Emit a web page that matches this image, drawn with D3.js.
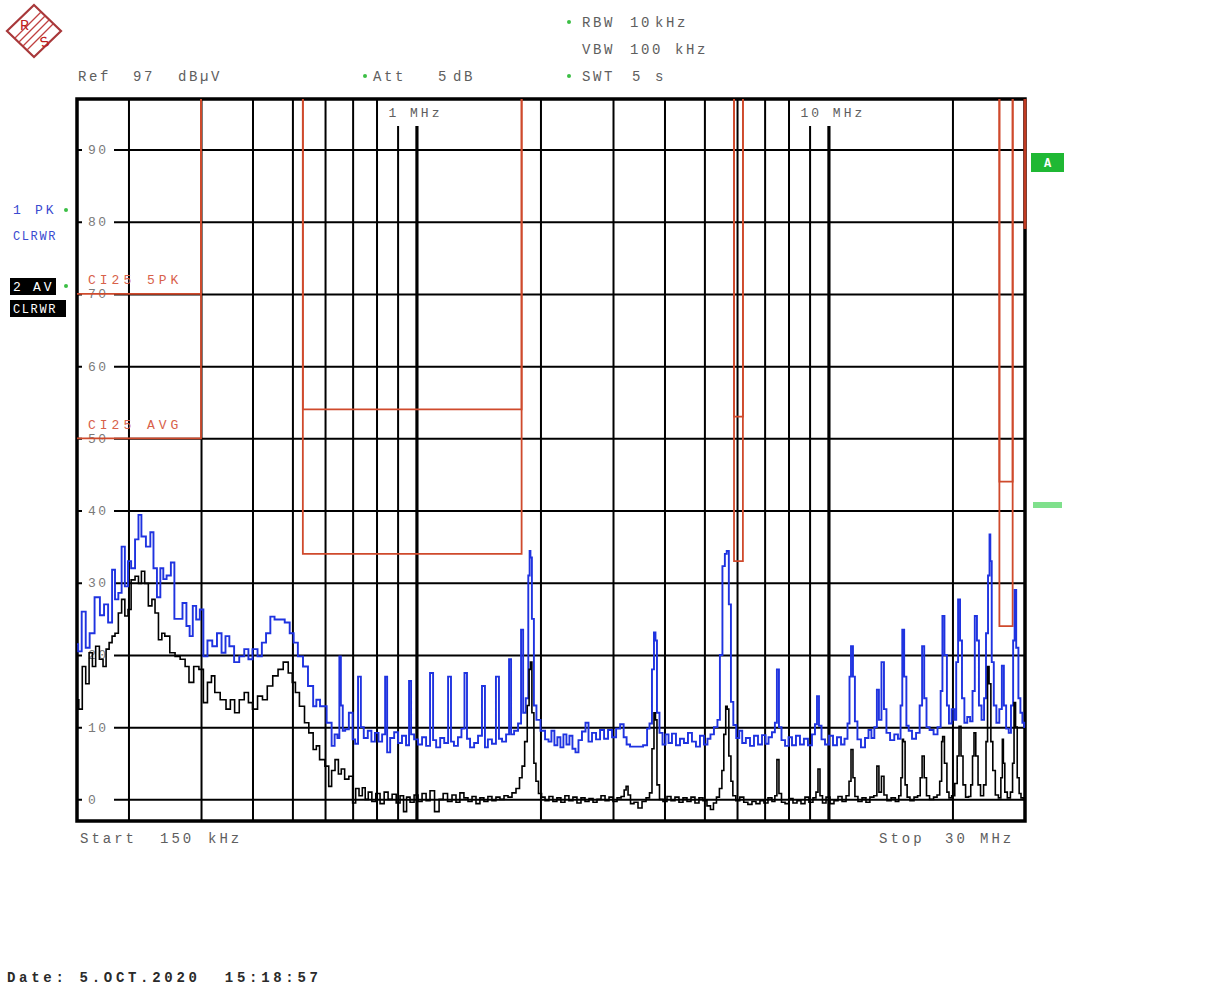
<!DOCTYPE html>
<html><head><meta charset="utf-8">
<script src="https://cdn.jsdelivr.net/npm/d3@7"></script>
<style>
html,body{margin:0;padding:0;background:#fff;}
svg{display:block;}
text{font-family:"Liberation Mono","DejaVu Sans Mono",monospace;}
</style></head><body>
<svg id="c" width="1207" height="1004"></svg>
<script>
// ---- axis settings ----
const startMHz = 0.15, stopMHz = 30;
const refLevel = 97, bottomLevel = -3;
const levelTicks = [0,10,20,30,40,50,60,70,80,90];
const gridFreqs = [0.2,0.3,0.4,0.5,0.6,0.7,0.8,0.9,1,2,3,4,5,6,7,8,9,10,20];
const majorFreqs = [1,10];
// ---- CISPR 25 limit bands (MHz, dBuV) ----
const bandStart = [0.15,0.53,5.9,26];
const bandStop  = [0.3,1.8,6.2,28];
const peakLimit = [70,54,53,44];
const avgLimit  = [50,34,33,24];
const edgeLimitFreq = 30, edgeLimitLevel = 79;
// ---- trace 1: peak (MHz, dBuV) ----
const pkTrace = [[0.150,21.5],[0.152,20.5],[0.156,26],[0.159,21],[0.163,23],[0.168,28],[0.173,25.5],[0.176,27],[0.181,24.5],[0.184,31.8],[0.187,27.7],[0.191,28.6],[0.194,35],[0.198,29.5],[0.201,33],[0.205,32],[0.210,36],[0.213,39.4],[0.217,36.4],[0.224,35],[0.228,37],[0.232,32],[0.237,28],[0.241,32],[0.245,30.5],[0.250,31],[0.257,32.8],[0.260,25],[0.267,25],[0.274,27.2],[0.279,24],[0.284,22.6],[0.289,26.8],[0.295,24.9],[0.301,26.3],[0.307,19.8],[0.315,22],[0.324,21.2],[0.332,23],[0.341,20.3],[0.347,22.6],[0.356,21.2],[0.366,19],[0.377,19.8],[0.387,20.8],[0.395,19.4],[0.405,20.8],[0.418,19.8],[0.425,21.7],[0.438,23],[0.446,25.3],[0.459,24.9],[0.472,24.9],[0.486,24.5],[0.499,23],[0.508,21.7],[0.523,19.8],[0.538,18.4],[0.553,15.7],[0.570,12.9],
[0.573,13.8],[0.594,12.9],[0.617,10.6],[0.628,7.4],[0.638,9],[0.648,8.5],[0.652,19.8],[0.659,13],[0.666,9.5],[0.677,9.7],[0.694,12],[0.706,8.3],[0.714,7.7],[0.729,17],[0.737,10],[0.753,8.5],[0.771,9.5],[0.784,8],[0.802,9.2],[0.816,8],[0.835,9],[0.844,17],[0.854,6.5],[0.873,8.5],[0.893,9.3],[0.912,7.8],[0.933,8.8],[0.954,7.5],[0.965,16.4],[0.976,9],[0.998,8.3],[1.020,7.6],[1.044,8.6],[1.067,7.4],[1.091,17.5],[1.104,8.2],[1.129,7.2],[1.155,8.5],[1.181,7.8],[1.206,17],[1.220,8],[1.247,7.4],[1.275,8.6],[1.297,9.8],[1.319,17.5],[1.334,8.4],[1.365,7.2],[1.396,7.8],[1.426,8.8],[1.459,15.7],[1.474,7.2],[1.508,8.3],[1.542,7.7],[1.577,17],[1.595,8.4],[1.632,8],[1.669,9],[1.687,19.4],[1.707,9],[1.745,9.5],[1.784,10.5],[1.805,23.5],[1.826,12],[1.858,14],[1.879,31],[1.886,34.4],[1.896,33.5],[1.917,25],[1.939,13],[1.972,11],[2.029,9.5],[2.075,8.3],
[2.109,8],[2.144,9.5],[2.180,7.5],[2.217,8.6],[2.255,7.2],[2.293,9],[2.332,7.6],[2.371,8.8],[2.412,7],[2.453,6.5],[2.494,8.2],[2.551,9.4],[2.594,10.6],[2.638,8],[2.698,9.2],[2.759,8.3],[2.822,9.6],[2.886,8.4],[2.950,9.6],[3.018,8.6],[3.087,9.8],[3.157,10.4],[3.211,8.6],[3.263,7.6],[3.336,7.3],[3.489,7.3],[3.610,7.5],[3.649,9.8],[3.709,10.5],[3.751,18],[3.793,23.1],[3.814,22],[3.857,12],[3.923,9.2],[3.990,7.6],[4.058,9],[4.125,7.8],[4.218,9.1],[4.313,7.5],[4.411,8.4],[4.510,7.8],[4.613,9.2],[4.716,8],[4.823,7.3],[4.932,8.8],[5.043,7.6],[5.129,8.4],[5.215,9],[5.333,10],[5.423,11],[5.482,20],[5.578,32.3],[5.633,34],[5.695,34.4],[5.768,27],[5.830,13.5],[5.924,10.3],[6.024,8.5],[6.125,9.5],[6.228,7.8],[6.380,8.5],[6.523,7.4],[6.671,8.8],[6.822,7.6],[6.976,8.9],[7.097,7.7],[7.214,8.6],[7.372,9.3],[7.455,10.6],[7.541,18],[7.628,10],[7.758,8.2],[7.938,7.4],[8.067,8.6],[8.249,7.5],[8.434,8.8],[8.624,7.6],[8.816,8.4],[9.020,7.5],[9.222,9],[9.328,10.4],[9.433,14.3],[9.539,10.2],[9.703,8.3],[9.920,7.6],[10.15,8.8],[10.37,7.5],[10.61,8.6],[10.85,7.6],[11.03,8.4],[11.22,10.5],[11.28,17],[11.41,21.2],[11.53,17],[11.66,10.8],[11.86,8.3],[12.13,7.2],[12.41,8.5],[12.61,9.6],[12.82,8.5],[13.03,10],[13.19,15.2],[13.33,11],[13.57,19],[13.71,12.5],[13.95,9.2],[14.28,8.2],[14.62,9],[14.88,8.4],[15.05,13],[15.17,23.5],[15.37,17],[15.55,10.2],[15.77,9.5],[16.14,8.4],[16.50,9.2],[16.80,13],[16.96,21.2],[17.20,14],[17.40,10],[17.80,9.6],[18.20,9],[18.60,10],[18.85,15],[18.97,25.4],[19.28,20],[19.50,13],[19.73,10.5],[20.09,12.5],[20.32,11],[20.53,19],[20.75,27.7],[20.98,22],[21.21,14],[21.55,10.6],[21.90,11.4],[22.25,10.8],[22.50,15],[22.82,25.4],[23.05,22],[23.33,13],[23.73,11],[24.00,14],[24.25,23],[24.55,31],[24.66,36.7],[24.77,33],[25.05,19],[25.35,13],[25.78,10.6],[26.20,12.5],[26.52,18.5],[26.80,13],[27.20,9.8],[27.58,9.2],[27.90,13],[28.25,22],[28.37,29],[28.75,21],[29.08,14],[29.40,12],[29.73,10.6],[30.0,10]];
// ---- trace 2: average (MHz, dBuV) ----
const avTrace = [[0.150,13.8],[0.153,12.5],[0.156,18.4],[0.159,16],[0.162,20.3],[0.165,18.4],[0.168,21.2],[0.172,19.4],[0.175,18.4],[0.178,20.8],[0.181,21.7],[0.184,22.6],[0.187,23],[0.191,25.8],[0.194,27.7],[0.198,25.4],[0.201,26.3],[0.205,30.4],[0.210,30.9],[0.213,29.9],[0.217,31.6],[0.221,29.9],[0.226,26.8],[0.230,27.7],[0.234,25.8],[0.239,22.1],[0.243,23],[0.247,22.6],[0.257,20.3],[0.262,19.8],[0.272,19.4],[0.277,18.4],[0.284,16.2],[0.292,18.4],[0.301,18],[0.307,13.4],[0.315,16.2],[0.321,17.1],[0.327,14.8],[0.341,13.8],[0.349,12.5],[0.358,13.8],[0.366,12],[0.377,13.8],[0.387,14.8],[0.395,13.4],[0.405,12.5],[0.418,14.3],[0.428,13.8],[0.441,15.7],[0.455,17.1],[0.468,18],[0.482,19],[0.495,17.5],[0.504,16.2],[0.513,14.8],[0.527,12.9],[0.543,10.6],[0.553,9.2],[0.570,6.9],
[0.573,7.4],[0.591,5.5],[0.608,4.6],[0.617,1.8],[0.628,4],[0.641,5.5],[0.652,3.5],[0.662,4.2],[0.677,2.8],[0.694,3.2],[0.706,-0.5],[0.718,1.5],[0.733,0.5],[0.745,1.6],[0.757,0],[0.771,1],[0.788,-0.3],[0.806,0.8],[0.826,-0.6],[0.844,1],[0.863,0],[0.883,0.7],[0.903,-0.5],[0.922,0.5],[0.939,-1.7],[0.954,0.3],[0.976,-0.4],[0.998,0.6],[1.020,-0.3],[1.044,0.8],[1.067,-0.2],[1.091,1.2],[1.122,-1.7],[1.148,0],[1.174,0.8],[1.206,-0.3],[1.234,0.6],[1.261,-0.4],[1.289,0.9],[1.319,0.2],[1.349,-0.3],[1.380,0.4],[1.410,-0.6],[1.442,0.2],[1.474,-0.3],[1.508,0.4],[1.542,-0.2],[1.577,0.3],[1.613,0],[1.650,0.5],[1.687,0.3],[1.725,0.9],[1.764,1.5],[1.794,3],[1.815,4.6],[1.847,8],[1.868,13],[1.886,18],[1.896,19],[1.917,12],[1.939,5],[1.961,2.5],[1.995,0.8],[2.029,0.3],
[2.075,-0.2],[2.120,0.4],[2.168,-0.3],[2.217,0.2],[2.267,-0.4],[2.319,0.5],[2.371,-0.2],[2.425,0.3],[2.480,-0.5],[2.537,0.2],[2.594,-0.3],[2.653,0.1],[2.713,-0.4],[2.774,0],[2.837,0.5],[2.902,-0.2],[2.966,0.3],[3.034,-0.3],[3.103,0.2],[3.175,0.4],[3.211,1.3],[3.245,1.8],[3.281,0.6],[3.336,-0.6],[3.411,-0.4],[3.489,-1.2],[3.568,-0.3],[3.649,0.2],[3.709,0.9],[3.751,7],[3.793,12],[3.814,11],[3.857,2],[3.923,0],[4.011,-0.3],[4.103,0.4],[4.194,-0.2],[4.289,0.3],[4.386,-0.4],[4.486,0.2],[4.587,-0.3],[4.690,0.3],[4.796,-0.5],[4.905,0.2],[5.016,-0.2],[5.129,-0.9],[5.215,-1.4],[5.304,-0.5],[5.393,0.3],[5.482,1.5],[5.544,4],[5.602,9],[5.664,12.9],[5.695,12.5],[5.768,6],[5.830,2.5],[5.893,0.5],[6.024,-0.2],[6.160,0.3],[6.300,-0.4],[6.450,-0.7],[6.596,-0.3],[6.745,-0.6],[6.897,-0.2],[7.053,-0.5],[7.214,0.2],[7.372,-0.3],[7.455,0.5],[7.541,5.5],[7.628,0.8],[7.758,-0.4],[7.938,-0.6],[8.111,0.1],[8.295,-0.5],[8.482,-0.2],[8.674,-0.6],[8.868,0.3],[9.070,-0.4],[9.275,0.2],[9.380,1],[9.486,4.2],[9.592,0.5],[9.757,-0.5],[9.977,0.3],[10.20,-0.6],[10.43,-0.2],[10.67,0.4],[10.91,-0.3],[11.16,0.5],[11.28,2.5],[11.41,6.9],[11.53,3],[11.66,0.4],[11.93,-0.3],[12.20,0.2],[12.47,-0.4],[12.75,0.3],[13.03,0.5],[13.19,4.6],[13.33,1],[13.57,3.2],[13.71,0.6],[14.03,-0.2],[14.36,0.2],[14.71,-0.3],[14.92,0.5],[15.07,3],[15.17,8.3],[15.25,8],[15.45,2],[15.60,0.3],[15.95,-0.2],[16.32,0.3],[16.60,0.5],[16.80,3],[16.96,6],[17.20,3],[17.40,0.5],[17.80,0],[18.20,0.3],[18.50,0.6],[18.75,2.5],[18.90,8],[18.97,8.7],[19.28,5],[19.50,1],[19.73,0.2],[20.09,0.5],[20.43,2.2],[20.64,6],[20.86,10.1],[21.10,6],[21.33,2],[21.72,0.3],[22.06,0.4],[22.25,2],[22.50,6],[22.62,9.2],[22.95,6],[23.20,2],[23.60,0.5],[24.00,2],[24.25,8],[24.42,18.4],[24.66,16],[24.92,8],[25.20,4],[25.63,0.6],[26.08,0.2],[26.35,3],[26.52,8.3],[26.65,5],[26.95,1],[27.40,0.2],[27.90,1],[28.07,5],[28.37,13.4],[28.55,10],[28.90,3],[29.17,0.8],[29.50,0.2],[30.0,0]];

// ---- drawing ----
const svg = d3.select('#c');
const x = d3.scaleLog().domain([startMHz, stopMHz]).range([77, 1025]);
const y = d3.scaleLinear().domain([bottomLevel, refLevel]).range([821, 99]);
const [L, R] = x.range();
const [B, T] = y.range();
const gray = '#5e5e5e';
const red = '#cf4a2c';

function txt(px, py, s, o = {}) {
  return svg.append('text').attr('x', px).attr('y', py)
    .attr('font-size', o.size || 14)
    .attr('letter-spacing', o.ls != null ? o.ls : 2.6)
    .attr('fill', o.fill || gray)
    .attr('font-weight', o.weight || 'normal')
    .attr('text-anchor', o.anchor || 'start')
    .style('white-space', 'pre')
    .text(s);
}
function dot(px, py) {
  svg.append('circle').attr('cx', px).attr('cy', py).attr('r', 2).attr('fill', '#3bbf45');
}

// logo
const lg = svg.append('g');
lg.append('path').attr('d', 'M34,5 L61,31 L34,57 L7,31 Z').attr('fill', '#fff').attr('stroke', '#a8383a').attr('stroke-width', 2.2);
[-6, -2, 2, 6].forEach(o => {
  lg.append('line').attr('x1', 47 + o).attr('y1', 18 + o).attr('x2', 21 + o).attr('y2', 44 + o)
    .attr('stroke', '#c04040').attr('stroke-width', 1.3);
});
lg.append('text').attr('x', 20).attr('y', 30).attr('font-size', 15).attr('fill', '#c02020').attr('font-family', 'Liberation Serif').text('R');
lg.append('text').attr('x', 40).attr('y', 47).attr('font-size', 15).attr('fill', '#c02020').attr('font-family', 'Liberation Serif')
  .attr('transform', 'rotate(-20,44,42)').text('S');

// header
dot(569, 22); txt(582, 27, 'RBW'); txt(630, 27, '10'); txt(655, 27, 'kHz');
txt(582, 54, 'VBW'); txt(630, 54, '100'); txt(675, 54, 'kHz');
dot(569, 76); txt(582, 81, 'SWT'); txt(632, 81, '5'); txt(655, 81, 's');
txt(78, 81, 'Ref'); txt(133, 81, '97'); txt(178, 81, 'dBµV');
dot(365, 76); txt(373, 81, 'Att'); txt(438, 81, '5'); txt(453, 81, 'dB');

// horizontal grid
const gy = svg.append('g').attr('transform', `translate(${L},0)`)
  .call(d3.axisRight(y).tickValues(levelTicks).tickSize(R - L).tickFormat(''));
gy.select('.domain').remove();
gy.selectAll('line').attr('stroke', '#000').attr('stroke-width', 2);

// vertical grid
const gx = svg.append('g').attr('transform', `translate(0,${T})`)
  .call(d3.axisBottom(x).tickValues(gridFreqs).tickSize(B - T).tickFormat(''));
gx.select('.domain').remove();
gx.selectAll('line').attr('stroke', '#000')
  .attr('stroke-width', d => majorFreqs.includes(d) ? 3.2 : 2);

// decade labels with gap
[[1, '1 MHz'], [10, '10 MHz']].forEach(([f, s]) => {
  const w = s.length * 11;
  svg.append('rect').attr('x', x(f) - 30).attr('y', T + 1).attr('width', w + 10).attr('height', 26).attr('fill', '#fff');
  txt(x(f) - 28, 117, s, { size: 13, ls: 3 });
});

// level labels
levelTicks.forEach(v => {
  svg.append('rect').attr('x', L + 5).attr('y', y(v) - 5).attr('width', 32).attr('height', 10).attr('fill', '#fff');
  txt(L + 11, y(v) + 4.5, String(v), { size: 13, ls: 2.4, fill: '#7a7a7a' });
});

// frame
svg.append('rect').attr('x', L).attr('y', T).attr('width', R - L).attr('height', B - T)
  .attr('fill', 'none').attr('stroke', '#000').attr('stroke-width', 3.5);

// limit lines
const clip = svg.append('clipPath').attr('id', 'pc');
clip.append('rect').attr('x', L - 2).attr('y', T).attr('width', R - L + 4).attr('height', B - T);
const lim = svg.append('g').attr('clip-path', 'url(#pc)');
bandStart.forEach((f0, i) => {
  const f1 = bandStop[i];
  [peakLimit[i], avgLimit[i]].forEach(lv => {
    const p = d3.path();
    if (f0 > startMHz) { p.moveTo(x(f0), T); p.lineTo(x(f0), y(lv)); } else { p.moveTo(x(f0), y(lv)); }
    p.lineTo(x(f1), y(lv)); p.lineTo(x(f1), T);
    lim.append('path').attr('d', p.toString()).attr('fill', 'none').attr('stroke', red).attr('stroke-width', 1.8);
  });
});
svg.append('line').attr('x1', x(edgeLimitFreq)).attr('x2', x(edgeLimitFreq)).attr('y1', T).attr('y2', y(edgeLimitLevel))
  .attr('stroke', '#c03a22').attr('stroke-width', 3);
txt(88, y(peakLimit[0]) - 10, 'CI25 5PK', { size: 13, ls: 4, fill: '#d8614a' });
txt(88, y(avgLimit[0]) - 9, 'CI25 AVG', { size: 13, ls: 4, fill: '#d8614a' });

// traces (stepped like the analyser display)
const line = d3.line().x(d => x(d[0])).y(d => y(d[1])).curve(d3.curveStep);
const tr = svg.append('g').attr('clip-path', 'url(#pc)');
tr.append('path').datum(pkTrace).attr('d', line).attr('fill', 'none').attr('stroke', '#1f33e0').attr('stroke-width', 1.9);
tr.append('path').datum(avTrace).attr('d', line).attr('fill', 'none').attr('stroke', '#000').attr('stroke-width', 1.6);

// trace labels left
txt(13, 214, '1', { size: 13, ls: 3, fill: '#3a4ad0' }); txt(35, 214, 'PK', { size: 13, ls: 3, fill: '#3a4ad0' }); dot(66, 210);
txt(13, 240, 'CLRWR', { size: 12, ls: 1.6, fill: '#3a4ad0' });
svg.append('rect').attr('x', 10).attr('y', 278).attr('width', 46).attr('height', 17).attr('fill', '#000');
txt(13, 291, '2', { size: 13, ls: 3, fill: '#fff' }); txt(33, 291, 'AV', { size: 13, ls: 3, fill: '#fff' }); dot(66, 286);
svg.append('rect').attr('x', 10).attr('y', 300).attr('width', 56).attr('height', 17).attr('fill', '#000');
txt(13, 313, 'CLRWR', { size: 12, ls: 1.6, fill: '#fff' });

// right markers
svg.append('rect').attr('x', 1031).attr('y', 153).attr('width', 33).attr('height', 19).attr('fill', '#1fb834');
txt(1047.5, 167, 'A', { size: 12, ls: 0, fill: '#fff', anchor: 'middle', weight: 'bold' });
svg.append('rect').attr('x', 1033).attr('y', 502).attr('width', 29).attr('height', 6).attr('fill', '#7fe08c');

// footer
txt(80, 843, 'Start', { ls: 3 }); txt(160, 843, '150', { ls: 3 }); txt(208, 843, 'kHz', { ls: 3 });
txt(879, 843, 'Stop', { ls: 3 }); txt(945, 843, '30', { ls: 3 }); txt(980, 843, 'MHz', { ls: 3 });
txt(7, 982, 'Date: 5.OCT.2020  15:18:57', { size: 14, ls: 3.7, fill: '#2a2a2a', weight: 'bold' });
</script>
</body></html>
